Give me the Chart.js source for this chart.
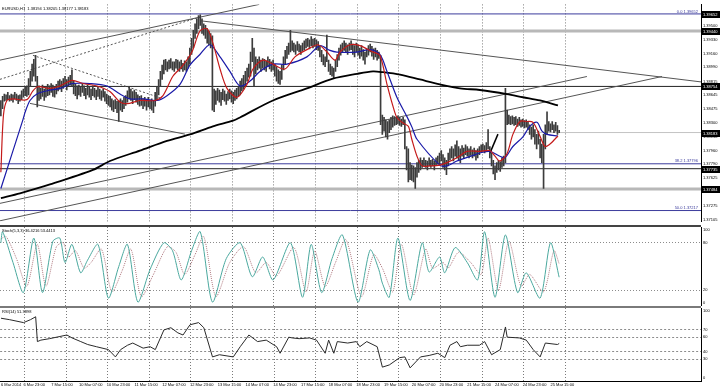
<!DOCTYPE html>
<html>
<head>
<meta charset="utf-8">
<script src="https://cdn.jsdelivr.net/npm/chart.js@4/dist/chart.umd.min.js"></script>
<style>
  body { margin: 0; background: #fff; width: 720px; height: 389px; overflow: hidden; position: relative; }
  canvas { position: absolute; left: 0; }
  .sep { position: absolute; left: 0; width: 701px; }
</style>
</head>
<body>
<canvas id="price" width="720" height="226" style="top:0"></canvas>
<canvas id="stoch" width="720" height="79" style="top:227px"></canvas>
<canvas id="rsi" width="720" height="81" style="top:308px"></canvas>
<div class="sep" style="top:225px;height:2px;background:#444"></div>
<div class="sep" style="top:306px;height:2px;background:#7a7a7a"></div>
<script>
// EURUSD H1, one bar per hour, bar 0 = 6 Mar 10:00
const barHigh = [
  1.3858,1.3863,1.3866,1.3865,1.3868,1.3864,1.3866,1.3865,1.3868,1.3866,
  1.3864,1.3865,1.3870,1.3872,1.3875,1.3876,1.3885,1.3894,1.3903,1.3909,
  1.3914,1.3888,1.3876,1.3873,1.3877,1.3872,1.3875,1.3878,1.3876,1.3879,
  1.3877,1.3875,1.3878,1.3882,1.3884,1.3882,1.3885,1.3888,1.3884,1.3887,
  1.3889,1.3896,1.3882,1.3878,1.3876,1.3877,1.3875,1.3878,1.3876,1.3873,
  1.3877,1.3875,1.3872,1.3876,1.3873,1.3871,1.3875,1.3872,1.3870,1.3872,
  1.3869,1.3866,1.3864,1.3863,1.3860,1.3858,1.3859,1.3857,1.3858,1.3860,
  1.3858,1.3862,1.3864,1.3870,1.3875,1.3872,1.3869,1.3871,1.3868,1.3865,
  1.3863,1.3864,1.3860,1.3862,1.3859,1.3862,1.3858,1.3860,1.3857,1.3868,
  1.3875,1.3884,1.3894,1.3902,1.3908,1.3909,1.3906,1.3908,1.3910,1.3906,
  1.3906,1.3909,1.3908,1.3906,1.3908,1.3904,1.3907,1.3906,1.3912,1.3923,
  1.3935,1.3945,1.3953,1.3959,1.3963,1.3964,1.3959,1.3953,1.3951,1.3947,
  1.3944,1.3941,1.3938,1.3872,1.3870,1.3873,1.3871,1.3868,1.3872,1.3870,
  1.3866,1.3869,1.3872,1.3870,1.3868,1.3871,1.3873,1.3875,1.3882,1.3885,
  1.3889,1.3894,1.3898,1.3903,1.3918,1.3935,1.3923,1.3912,1.3909,1.3912,
  1.3908,1.3910,1.3909,1.3907,1.3912,1.3909,1.3906,1.3908,1.3903,1.3900,
  1.3896,1.3894,1.3902,1.3912,1.3920,1.3925,1.3929,1.3945,1.3932,1.3929,
  1.3927,1.3931,1.3928,1.3926,1.3929,1.3932,1.3934,1.3935,1.3933,1.3937,
  1.3934,1.3935,1.3933,1.3931,1.3925,1.3920,1.3915,1.3912,1.3939,1.3908,
  1.3903,1.3900,1.3898,1.3908,1.3915,1.3923,1.3927,1.3929,1.3932,1.3929,
  1.3927,1.3929,1.3932,1.3928,1.3926,1.3929,1.3927,1.3923,1.3926,1.3921,
  1.3918,1.3922,1.3926,1.3928,1.3925,1.3922,1.3923,1.3920,1.3918,1.3914,
  1.3840,1.3837,1.3834,1.3832,1.3834,1.3837,1.3839,1.3838,1.3837,1.3839,
  1.3837,1.3835,1.3837,1.3834,1.3801,1.3798,1.3781,1.3778,1.3777,1.3775,
  1.3781,1.3784,1.3787,1.3784,1.3787,1.3784,1.3783,1.3787,1.3784,1.3785,
  1.3783,1.3787,1.3789,1.3793,1.3796,1.3791,1.3787,1.3784,1.3793,1.3798,
  1.3801,1.3798,1.3803,1.3808,1.3801,1.3798,1.3802,1.3799,1.3803,1.3801,
  1.3798,1.3801,1.3797,1.3799,1.3796,1.3798,1.3801,1.3803,1.3804,1.3802,
  1.3806,1.3822,1.3801,1.3793,1.3784,1.3777,1.3781,1.3784,1.3782,1.3787,
  1.3789,1.3873,1.3846,1.3840,1.3838,1.3839,1.3837,1.3838,1.3835,1.3837,
  1.3834,1.3835,1.3833,1.3834,1.3832,1.3828,1.3825,1.3828,1.3822,1.3816,
  1.3820,1.3810,1.3804,1.3816,1.3828,1.3844,1.3832,1.3829,1.3832,1.3828,
  1.3831,1.3827,1.3821
];
const barLow = [
  1.3839,1.3848,1.3857,1.3858,1.3859,1.3857,1.3858,1.3856,1.3860,1.3858,
  1.3854,1.3857,1.3859,1.3862,1.3864,1.3863,1.3865,1.3875,1.3882,1.3888,
  1.3882,1.3850,1.3858,1.3860,1.3863,1.3858,1.3862,1.3864,1.3865,1.3868,
  1.3863,1.3862,1.3866,1.3870,1.3872,1.3869,1.3873,1.3875,1.3871,1.3876,
  1.3877,1.3876,1.3866,1.3864,1.3860,1.3865,1.3863,1.3868,1.3864,1.3860,
  1.3865,1.3862,1.3859,1.3864,1.3862,1.3859,1.3863,1.3860,1.3858,1.3862,
  1.3857,1.3854,1.3852,1.3850,1.3846,1.3844,1.3848,1.3843,1.3832,1.3846,
  1.3844,1.3848,1.3852,1.3856,1.3860,1.3858,1.3854,1.3859,1.3856,1.3853,
  1.3851,1.3852,1.3848,1.3851,1.3846,1.3850,1.3848,1.3846,1.3843,1.3851,
  1.3858,1.3865,1.3875,1.3884,1.3891,1.3896,1.3894,1.3897,1.3898,1.3896,
  1.3894,1.3898,1.3896,1.3894,1.3897,1.3894,1.3896,1.3894,1.3898,1.3903,
  1.3915,1.3923,1.3935,1.3941,1.3947,1.3951,1.3941,1.3939,1.3935,1.3929,
  1.3927,1.3923,1.3846,1.3844,1.3853,1.3858,1.3856,1.3852,1.3859,1.3857,
  1.3853,1.3858,1.3860,1.3856,1.3854,1.3858,1.3860,1.3863,1.3865,1.3870,
  1.3872,1.3876,1.3882,1.3887,1.3888,1.3906,1.3876,1.3891,1.3896,1.3898,
  1.3894,1.3898,1.3896,1.3894,1.3900,1.3897,1.3894,1.3896,1.3888,1.3882,
  1.3879,1.3878,1.3884,1.3896,1.3903,1.3910,1.3915,1.3918,1.3920,1.3918,
  1.3915,1.3920,1.3918,1.3915,1.3919,1.3921,1.3923,1.3925,1.3922,1.3926,
  1.3923,1.3925,1.3921,1.3920,1.3912,1.3906,1.3902,1.3900,1.3906,1.3894,
  1.3890,1.3888,1.3885,1.3894,1.3900,1.3908,1.3914,1.3918,1.3920,1.3918,
  1.3915,1.3920,1.3921,1.3915,1.3912,1.3918,1.3914,1.3910,1.3913,1.3908,
  1.3903,1.3912,1.3914,1.3918,1.3913,1.3909,1.3912,1.3908,1.3910,1.3828,
  1.3816,1.3820,1.3813,1.3810,1.3818,1.3822,1.3825,1.3827,1.3828,1.3829,
  1.3827,1.3826,1.3828,1.3798,1.3772,1.3757,1.3760,1.3759,1.3757,1.3749,
  1.3763,1.3769,1.3772,1.3775,1.3777,1.3775,1.3772,1.3777,1.3775,1.3777,
  1.3772,1.3778,1.3779,1.3778,1.3783,1.3775,1.3772,1.3766,1.3777,1.3784,
  1.3787,1.3783,1.3789,1.3787,1.3784,1.3781,1.3789,1.3787,1.3791,1.3789,
  1.3787,1.3790,1.3787,1.3789,1.3784,1.3787,1.3791,1.3794,1.3795,1.3793,
  1.3796,1.3798,1.3787,1.3777,1.3767,1.3760,1.3769,1.3772,1.3770,1.3775,
  1.3777,1.3781,1.3828,1.3829,1.3828,1.3829,1.3827,1.3828,1.3826,1.3827,
  1.3825,1.3826,1.3824,1.3825,1.3822,1.3816,1.3810,1.3813,1.3804,1.3798,
  1.3804,1.3787,1.3781,1.3749,1.3798,1.3816,1.3820,1.3819,1.3822,1.3818,
  1.3820,1.3816,1.3818
];

// moving averages: [bar, price]
const maFast = [[0,1.3769],[1.5,1.3840],[3.5,1.3858],[7,1.3860],[15,1.3859],[18.5,1.3870],[21.4,1.3875],[28.3,1.3873],[34,1.3876],[41,1.3883],[47.3,1.3879],[55.4,1.3876],[62.9,1.3869],[68.7,1.3856],[72.7,1.3854],[80.2,1.3858],[88.9,1.3858],[93.5,1.3864],[99.2,1.3888],[104.4,1.3900],[110.2,1.3918],[114.8,1.3944],[118.9,1.3947],[122.3,1.3929],[126.4,1.3897],[130.4,1.3873],[136.2,1.3862],[141.9,1.3878],[145.4,1.3897],[151.2,1.3908],[156.9,1.3903],[163.8,1.3897],[169.6,1.3912],[176.5,1.3921],[182.9,1.3927],[188.1,1.3918],[192.7,1.3908],[195.6,1.3918],[201.3,1.3927],[207.1,1.3926],[214.6,1.3918],[218.6,1.3914],[222.7,1.3878],[226,1.3852],[228.4,1.3837],[232,1.3830],[235,1.3826],[237,1.3810],[240,1.3789],[243,1.3777],[247.5,1.3777],[253.2,1.3778],[257.3,1.3781],[263,1.3787],[268.8,1.3795],[276.3,1.3795],[282,1.3796],[285,1.3789],[287.8,1.3783],[291.9,1.3792],[295.3,1.3816],[299.4,1.3832],[303.4,1.3832],[306.9,1.3831],[310.9,1.3814],[313.8,1.3801],[316.7,1.3804],[319.5,1.3810],[321.3,1.3814]];
const maSlow = [[0,1.3749],[12.7,1.3834],[13.9,1.3843],[16.8,1.3858],[20.8,1.3866],[26.6,1.3870],[34.1,1.3873],[41.6,1.3879],[51.4,1.3879],[61.2,1.3876],[68.7,1.3866],[74.5,1.3860],[82,1.3860],[90,1.3858],[95.8,1.3864],[103.3,1.3878],[109.1,1.3902],[114.8,1.3915],[120.6,1.3927],[126.4,1.3912],[132.1,1.3894],[137.9,1.3876],[143.7,1.3882],[149.4,1.3894],[156.9,1.3903],[165,1.3903],[176.5,1.3912],[184,1.3926],[189.8,1.3920],[193.8,1.3918],[205.4,1.3918],[212.9,1.3921],[218.6,1.3915],[222.7,1.3894],[228.4,1.3862],[234.2,1.3838],[237.1,1.3825],[240,1.3810],[253.2,1.3778],[257.3,1.3777],[263,1.3783],[272.3,1.3790],[276.3,1.3793],[282,1.3795],[287.8,1.3789],[290.7,1.3787],[295.3,1.3801],[301.1,1.3813],[305.1,1.3826],[309.2,1.3831],[312.1,1.3820],[315,1.3816],[321.3,1.3814]];
const ma200 = [[0,1.3737],[11,1.3743],[28.3,1.3754],[53.1,1.3772],[62.9,1.3783],[80.2,1.3796],[95.8,1.3808],[109.1,1.3816],[122.3,1.3826],[133.9,1.3833],[137.9,1.3837],[156.9,1.3858],[176.5,1.3873],[191.5,1.3885],[205.4,1.3891],[214.6,1.3894],[220.4,1.3893],[230.2,1.3890],[241.7,1.3884],[253.2,1.3878],[264.8,1.3873],[276.3,1.3871],[291.9,1.3866],[301.1,1.3862],[310.9,1.3858],[321.3,1.3852]];

// drawn objects: [bar1, price1, bar2, price2]
const trendLines = [[-0.5,1.3908,149,1.3977],[16.8,1.38544,106.2,1.38163],[-0.5,1.37306,338,1.38877],[-0.5,1.3709,381.3,1.38877],[114.8,1.39568,403.8,1.3881]];
const dottedLines = [[-0.5,1.38842,115,1.39615],[18.5,1.39139,91.7,1.38615]];
const markerLine = [282,1.37925,286.7,1.38163];
const fibLevels = [1.39652, 1.37796, 1.37217];
const fibNames = ['0.0', '38.2', '50.0'];
const zoneLevels = [1.39440, 1.37484];
const lineLevels = [1.38754, 1.37735];
const bidPrice = 1.38183;
const priceTicks = [1.39500,1.39330,1.39160,1.38990,1.38815,1.38645,1.38475,1.38300,1.38130,1.37960,1.37790,1.37625,1.37455,1.37275,1.37105];
const quote = 'EURUSD,H1  1.38194 1.38205 1.38177 1.38183';

// Stoch(5,3,3), [bar, value]
const stochMain = [[0,80],[1,94],[7,55],[13,17],[19,86],[24,17],[30,82],[34,86],[37,55],[41,78],[46,42],[50,58],[56,78],[62,10],[68,50],[73,78],[79,5],[86,46],[94,80],[99,70],[104,33],[110,70],[115,94],[122,5],[130,60],[138,80],[145,37],[151,62],[157,33],[167,80],[174,11],[179,78],[185,17],[191,60],[197,90],[206,5],[213,71],[218,46],[220,29],[224,11],[229,86],[236,7],[243,80],[247,43],[253,62],[256,42],[262,74],[269,55],[275,33],[279,94],[285,11],[291,90],[298,17],[303,42],[311,10],[317,80],[322,36.4]];
const stochSignal = [[0,85],[3,88],[9,60],[15,25],[21,78],[26,25],[32,75],[36,80],[39,62],[43,70],[48,48],[52,55],[58,72],[64,18],[70,45],[75,72],[81,12],[88,40],[96,75],[101,68],[106,40],[112,65],[117,88],[124,12],[132,55],[140,75],[147,42],[153,55],[159,38],[169,74],[176,18],[181,70],[187,25],[193,55],[199,84],[208,12],[215,65],[220,48],[226,18],[231,78],[238,14],[245,72],[249,48],[255,55],[258,48],[264,68],[271,55],[277,40],[281,86],[287,20],[293,82],[300,25],[305,40],[313,18],[319,70],[322,53.4]];
const stochLevels = [100, 80, 20, 0];

// RSI(14), [bar, value]
const rsiLine = [[0,86],[5,84],[13,80],[17,84],[20,88],[21,54],[23,56],[28,58],[34,61],[38,63],[41,59],[46,54],[50,50],[55,47],[62,43],[66,33],[69,43],[73,49],[76,52],[82,45],[86,47],[89,43],[94,70],[98,73],[102,66],[105,63],[109,77],[114,80],[117,73],[122,33],[126,36],[134,33],[138,47],[143,63],[148,54],[153,56],[159,47],[161,38],[166,60],[168,59],[172,58],[178,59],[182,56],[187,38],[189,56],[192,38],[194,54],[200,52],[205,54],[207,47],[211,54],[217,47],[220,19],[224,22],[230,32],[233,33],[236,18],[242,33],[247,35],[252,38],[256,32],[259,49],[263,54],[265,47],[269,49],[276,49],[279,54],[283,36],[288,43],[291,74],[292,60],[299,59],[303,56],[307,43],[311,33],[314,52],[321,50],[322,51.4]];
const rsiLevels = [100, 70, 60, 40, 30, 0];
const rsiTitle = 'RSI(14) 51.3898';
const stochTitle = 'Stoch(5,3,3) 36.4216 53.4413';

// time axis
const timeLabels = ['6 Mar 2014','6 Mar 23:00','7 Mar 15:00','10 Mar 07:00','10 Mar 23:00','11 Mar 15:00','12 Mar 07:00','12 Mar 23:00','13 Mar 15:00','14 Mar 07:00','14 Mar 23:00','17 Mar 15:00','18 Mar 07:00','18 Mar 23:00','19 Mar 15:00','20 Mar 07:00','20 Mar 23:00','21 Mar 15:00','24 Mar 07:00','24 Mar 23:00','25 Mar 15:00'];
const timeLabelBars = [0,13,29,45,61,77,93,109,125,141,157,173,189,205,221,237,253,269,285,301,317];
const dayStartBars = [13.5,37.5,61.5,85.5,109.5,133.5,157.5,181.5,205.5,229.5,253.5,277.5,301.5,325.5];

const X_MIN = -0.5, X_MAX = 403.8, AXIS_W = 19;
const FONT = { family: '"Liberation Sans", Arial, sans-serif', size: 4 };
const allTicks = [...timeLabelBars, ...dayStartBars].sort((a, b) => a - b);

Chart.defaults.font.family = FONT.family;
Chart.defaults.animation = false;

const pts = arr => arr.map(p => ({ x: p[0], y: p[1] }));
const seg = s => [{ x: s[0], y: s[1] }, { x: s[2], y: s[3] }];
const level = v => [{ x: X_MIN, y: v }, { x: X_MAX, y: v }];
const lineDs = (data, color, width, extra) => Object.assign({
  type: 'line', data, borderColor: color, borderWidth: width,
  pointRadius: 0, fill: false, tension: 0
}, extra || {});

function timeAxis(showLabels) {
  return {
    type: 'linear', min: X_MIN, max: X_MAX, offset: false,
    afterBuildTicks: s => { s.ticks = allTicks.map(v => ({ value: v })); },
    afterFit: s => { s.height = showLabels ? 8 : 0; },
    grid: {
      offset: false, drawTicks: false,
      color: c => dayStartBars.includes(c.tick && c.tick.value) ? '#7a7a7a' : 'rgba(0,0,0,0)'
    },
    border: { display: showLabels, color: '#000', dash: [1, 2] },
    ticks: {
      display: showLabels, autoSkip: false, maxRotation: 0, minRotation: 0,
      align: 'start', padding: 1, font: FONT, color: '#000',
      callback: v => { const k = timeLabelBars.indexOf(v); return k >= 0 ? timeLabels[k] : ''; }
    }
  };
}

function levelAxis(levels, dash) {
  return {
    position: 'right', min: 0, max: 100,
    afterBuildTicks: s => { s.ticks = levels.map(v => ({ value: v })); },
    afterFit: s => { s.width = AXIS_W; },
    ticks: { display: false },
    grid: {
      drawTicks: false,
      color: c => (c.tick && c.tick.value > 0 && c.tick.value < 100) ? '#8c8c8c' : 'rgba(0,0,0,0)'
    },
    border: { color: '#000', dash: dash }
  };
}

// text on top of the panes: quote line, axis labels, price boxes, fib tags
const paneText = {
  id: 'paneText',
  afterDraw(chart, args, o) {
    const { ctx, chartArea: a } = chart;
    const y = chart.scales.y;
    ctx.save();
    ctx.font = FONT.size + 'px ' + FONT.family;
    ctx.textBaseline = 'middle';
    ctx.textAlign = 'left';
    if (o.title) {
      ctx.fillStyle = '#000';
      ctx.fillText(o.title, 2, a.top + 4);
    }
    (o.levels || []).forEach(v => {
      const py = Math.min(Math.max(y.getPixelForValue(v), a.top + 3), a.bottom - 3);
      ctx.fillStyle = '#000';
      ctx.fillText(String(v), a.right + 2, py);
    });
    (o.fibs || []).forEach((v, k) => {
      ctx.fillStyle = '#3b3b9c';
      ctx.textAlign = 'right';
      ctx.textBaseline = 'bottom';
      ctx.fillText(fibNames[k] + ' ' + v.toFixed(5), a.right - 3, y.getPixelForValue(v) - 0.5);
    });
    ctx.textAlign = 'left';
    ctx.textBaseline = 'middle';
    (o.boxes || []).forEach(v => {
      const py = Math.round(y.getPixelForValue(v));
      ctx.fillStyle = '#000';
      ctx.fillRect(a.right + 1, py - 3, AXIS_W - 1, 7);
      ctx.fillStyle = '#fff';
      ctx.fillText(v.toFixed(5), a.right + 2, py + 0.5);
    });
    ctx.restore();
  }
};

const common = {
  responsive: false,
  events: [],
  layout: { padding: 0, autoPadding: false },
  plugins: { legend: { display: false }, tooltip: { enabled: false } }
};

new Chart(document.getElementById('price'), {
  type: 'bar',
  data: {
    datasets: [
      lineDs(pts(maFast), '#c41a1a', 1.2, { order: 0, tension: 0.3 }),
      lineDs(pts(maSlow), '#1a1aa8', 1.2, { order: 1, tension: 0.3 }),
      lineDs(pts(ma200), '#000', 1.8, { order: 2, tension: 0.3 }),
      {
        type: 'bar', order: 3,
        data: barLow.map((lo, i) => ({ x: i, y: [lo, barHigh[i]] })),
        backgroundColor: '#3c3c3c', borderWidth: 0, barThickness: 1
      },
      lineDs(seg(markerLine), '#000', 1.5, { order: 4 }),
      ...trendLines.map(s => lineDs(seg(s), '#555', 1, { order: 5 })),
      ...dottedLines.map(s => lineDs(seg(s), '#555', 1, { order: 5, borderDash: [2, 2] })),
      ...fibLevels.map(v => lineDs(level(v), '#3b3b9c', 1, { order: 6 })),
      ...zoneLevels.map(v => lineDs(level(v), '#b8b8b8', 3, { order: 7 })),
      ...lineLevels.map(v => lineDs(level(v), '#222', 1, { order: 6 })),
      lineDs(level(bidPrice), '#c4c4c4', 1, { order: 7 })
    ]
  },
  options: Object.assign({}, common, {
    scales: {
      x: timeAxis(false),
      y: {
        position: 'right', min: 1.3708, max: 1.3977,
        afterBuildTicks: s => { s.ticks = priceTicks.map(v => ({ value: v })); },
        afterFit: s => { s.width = AXIS_W; },
        ticks: { autoSkip: false, padding: 2, font: FONT, color: '#000', callback: v => v.toFixed(5) },
        grid: { display: false, drawTicks: false },
        border: { color: '#000' }
      }
    },
    plugins: Object.assign({}, common.plugins, {
      paneText: {
        title: quote,
        fibs: fibLevels,
        boxes: [fibLevels[0], zoneLevels[0], lineLevels[0], bidPrice, lineLevels[1], zoneLevels[1]]
      }
    })
  }),
  plugins: [paneText]
});

new Chart(document.getElementById('stoch'), {
  type: 'line',
  data: {
    datasets: [
      lineDs(pts(stochMain), '#4aa89e', 1, { tension: 0.25 }),
      lineDs(pts(stochSignal), '#b07a80', 1, { borderDash: [1, 1], tension: 0.25 })
    ]
  },
  options: Object.assign({}, common, {
    scales: { x: timeAxis(false), y: levelAxis(stochLevels, [1, 2]) },
    plugins: Object.assign({}, common.plugins, {
      paneText: { title: stochTitle, levels: stochLevels }
    })
  }),
  plugins: [paneText]
});

new Chart(document.getElementById('rsi'), {
  type: 'line',
  data: {
    datasets: [lineDs(pts(rsiLine), '#2a2a2a', 1)]
  },
  options: Object.assign({}, common, {
    scales: { x: timeAxis(true), y: levelAxis(rsiLevels, [2, 2]) },
    plugins: Object.assign({}, common.plugins, {
      paneText: { title: rsiTitle, levels: rsiLevels }
    })
  }),
  plugins: [paneText]
});
</script>
</body>
</html>
